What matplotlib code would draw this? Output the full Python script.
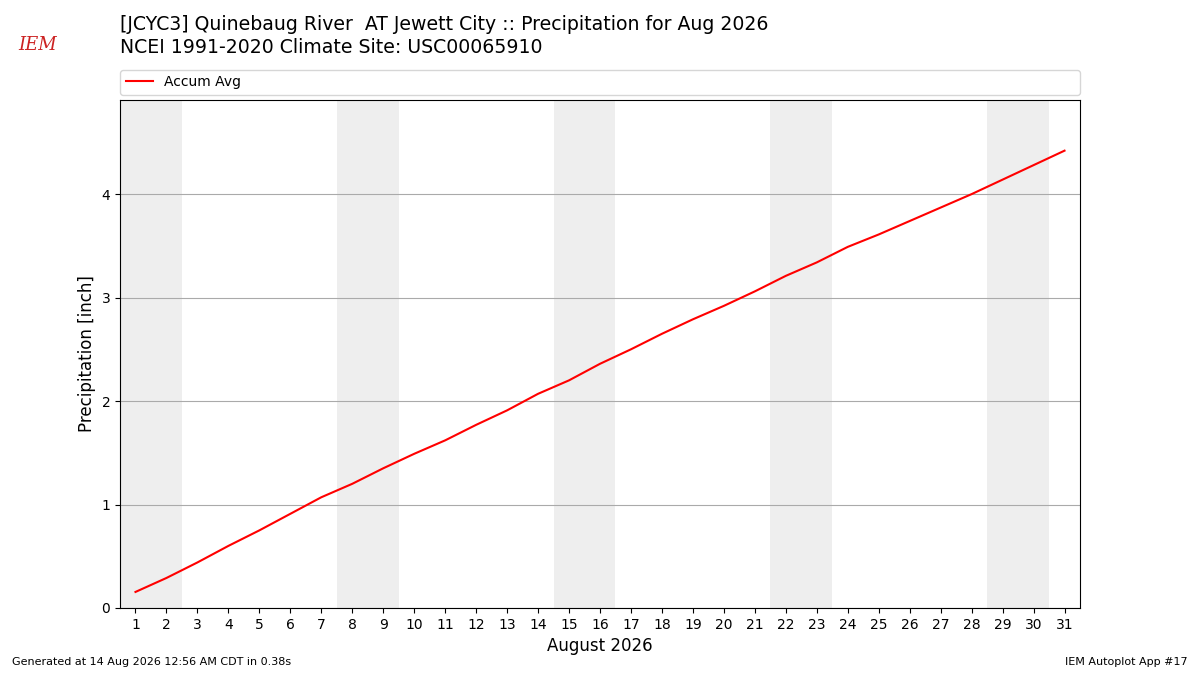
import matplotlib
matplotlib.use("Agg")
import matplotlib.pyplot as plt

# accumulated average precipitation, Aug 1..31
days = list(range(1, 32))
accum = [0.155, 0.29, 0.44, 0.60, 0.75, 0.91, 1.07, 1.20, 1.35, 1.49,
         1.62, 1.77, 1.91, 2.07, 2.20, 2.36, 2.50, 2.65, 2.79, 2.92,
         3.06, 3.21, 3.34, 3.49, 3.61, 3.74, 3.87, 4.00, 4.14, 4.28, 4.42]
weekends = [1, 8, 15, 22, 29]  # first day of each Sat/Sun pair

title1 = "[JCYC3] Quinebaug River  AT Jewett City :: Precipitation for Aug 2026"
title2 = "NCEI 1991-2020 Climate Site: USC00065910"

fig = plt.figure(figsize=(12, 6.75), dpi=100)
ax = fig.add_axes([0.1, 0.0993, 0.8, 0.7526])

for d in weekends:
    ax.axvspan(d - 0.5, d + 1.5, color="#eeeeee", lw=0, zorder=0)

ax.plot(days, accum, color="r", lw=1.5, label="Accum Avg", zorder=3)

ax.set_xlim(0.5, 31.5)
ax.set_ylim(0, 4.91)
ax.set_xticks(days)
ax.set_yticks([0, 1, 2, 3, 4])
ax.grid(axis="y", color="#aaaaaa", lw=0.8)
ax.set_axisbelow(True)
ax.set_xlabel("August 2026", fontsize=12)
ax.set_ylabel("Precipitation [inch]", fontsize=12)
ax.tick_params(labelsize=10)

ax.legend(loc="lower left", bbox_to_anchor=(0, 1.01, 1, 0.049), mode="expand",
          ncol=1, fontsize=10, borderaxespad=0, frameon=True)

fig.text(0.1, 0.963, title1, fontsize=13.6, va="center")
fig.text(0.1, 0.929, title2, fontsize=13.6, va="center")

# stand-in for the logo
fig.text(0.031, 0.933, "IEM", color="#cc2222", fontsize=13, style="italic",
         family="serif", ha="center", va="center")

fig.text(0.01, 0.015, "Generated at 14 Aug 2026 12:56 AM CDT in 0.38s", fontsize=8)
fig.text(0.99, 0.015, "IEM Autoplot App #17", fontsize=8, ha="right")

fig.savefig("out.png", dpi=100)
